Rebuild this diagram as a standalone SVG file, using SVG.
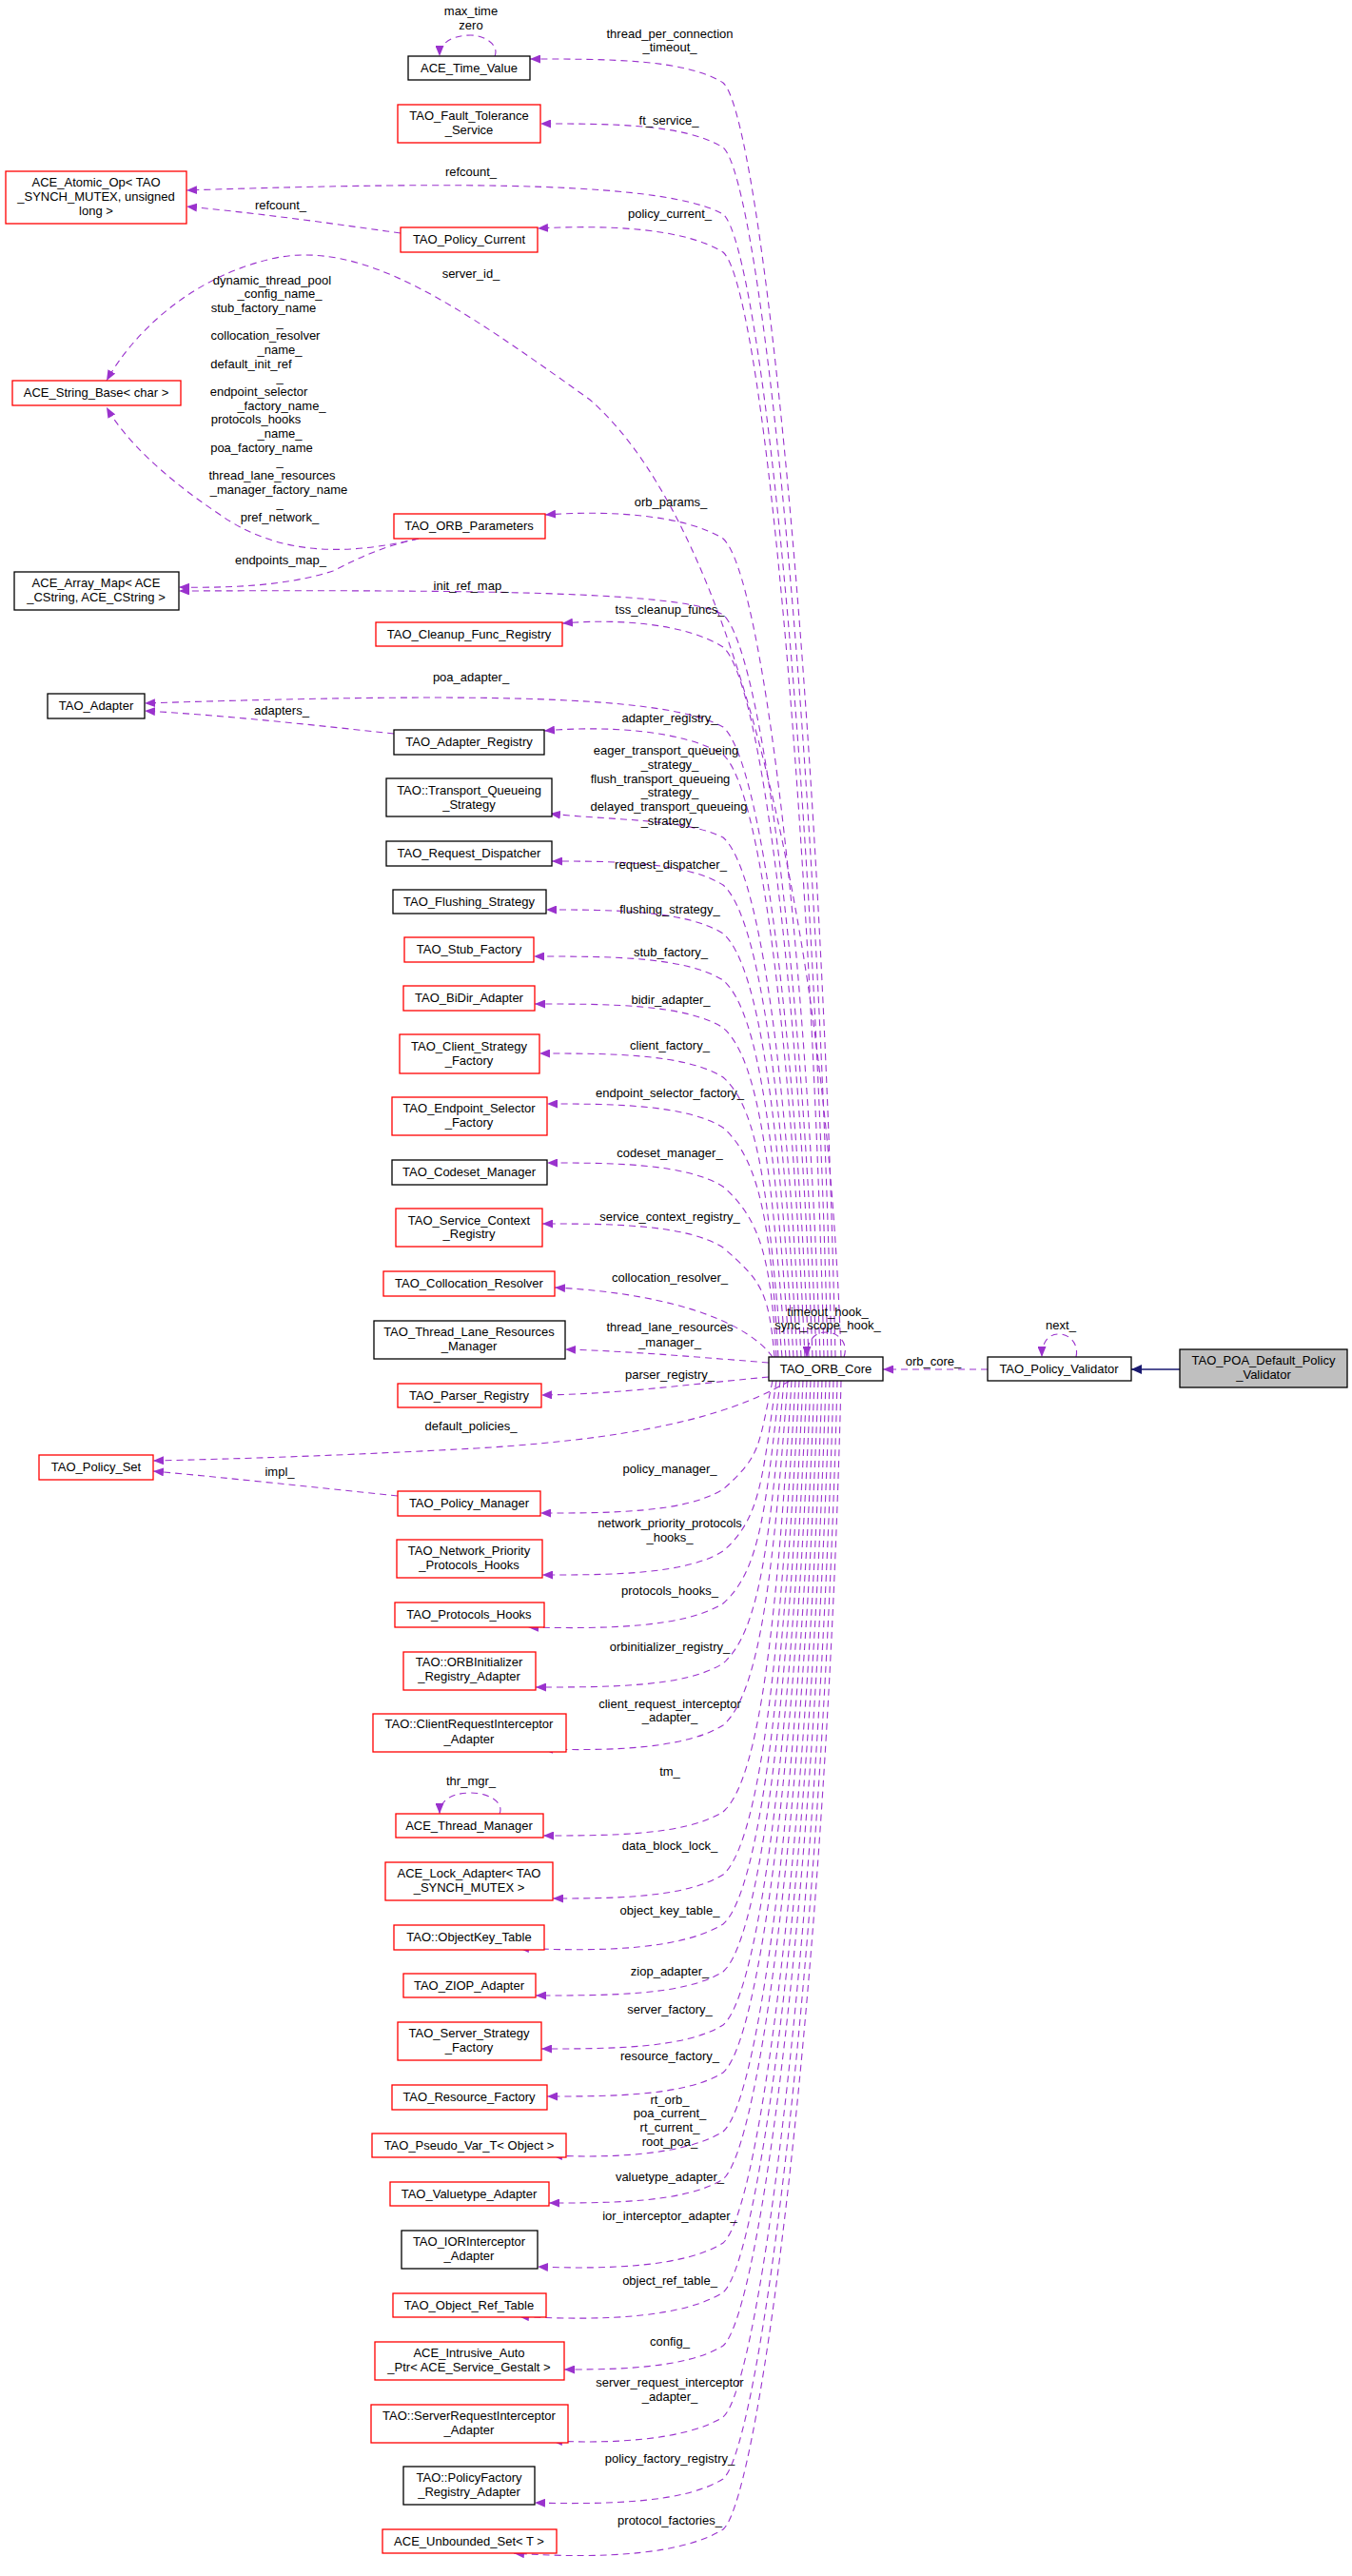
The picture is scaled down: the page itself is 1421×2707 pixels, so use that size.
<svg xmlns="http://www.w3.org/2000/svg" width="1421" height="2707" viewBox="0 0 1421 2707">
<style>
text{font-family:"Liberation Sans",Arial,sans-serif;font-size:13px;text-anchor:middle;fill:#000}
.r{fill:#fff;stroke:#ff0000;stroke-width:1.3}
.b{fill:#fff;stroke:#000;stroke-width:1.3}
.e{fill:none;stroke:#9a32cd;stroke-width:1.1;stroke-dasharray:7,5;marker-end:url(#a)}
</style>
<defs>
<marker id="a" markerUnits="userSpaceOnUse" markerWidth="12" markerHeight="9" refX="11" refY="4.5" orient="auto"><path d="M0,0 L11,4.5 L0,9 z" fill="#9a32cd"/></marker>
<marker id="n" markerUnits="userSpaceOnUse" markerWidth="12" markerHeight="10" refX="11" refY="5" orient="auto"><path d="M0,0 L11,5 L0,10 z" fill="#191970"/></marker>
</defs>
<rect width="1421" height="2707" fill="#fff"/>
<g id="edges">
<path class="e" d="M878,1426 C863,744 800,122 760,87 C720,62 640,62 557,62"/>
<path class="e" d="M874,1426 C859,778 800,190 760,155 C720,130 640,130 568,130"/>
<path class="e" d="M870,1426 C855,813 800,260 760,225 C700,192 500,190 196,200"/>
<path class="e" d="M866,1426 C851,833 800,300 760,265 C720,240 640,236 565,240"/>
<path class="e" d="M884,1426 C870,1000 780,560 620,420 C480,320 380,250 285,272 C200,292 140,350 112,400"/>
<path class="e" d="M862,1426 C847,983 800,601 760,566 C720,541 640,536 573,541"/>
<path class="e" d="M858,1426 C843,1023 800,681 760,646 C720,621 500,620 188,621"/>
<path class="e" d="M854,1426 C839,1040 800,715 760,680 C720,655 650,650 591,655"/>
<path class="e" d="M850,1426 C835,1082 800,799 760,764 C700,730 500,728 152,739"/>
<path class="e" d="M846,1426 C831,1097 800,828 760,793 C720,768 640,762 572,768"/>
<path class="e" d="M842,1426 C827,1140 800,915 760,880 C720,860 640,862 578,855"/>
<path class="e" d="M838,1426 C823,1165 800,965 760,930 C720,905 640,905 580,905"/>
<path class="e" d="M834,1426 C819,1191 800,1016 760,981 C720,956 640,956 574,956"/>
<path class="e" d="M830,1426 C815,1215 800,1065 760,1030 C720,1005 640,1005 561,1005"/>
<path class="e" d="M826,1426 C811,1240 800,1115 760,1080 C720,1055 640,1055 562,1055"/>
<path class="e" d="M822,1426 C807,1266 800,1167 760,1132 C720,1107 640,1107 567,1107"/>
<path class="e" d="M818,1426 C810,1293 800,1220 760,1185 C720,1160 640,1160 575,1160"/>
<path class="e" d="M816,1426 C810,1324 800,1282 760,1247 C720,1222 640,1222 575,1222"/>
<path class="e" d="M814,1426 C808,1356 800,1346 760,1311 C720,1286 640,1286 570,1286"/>
<path class="e" d="M812,1426 C790,1395 720,1360 583,1353"/>
<path class="e" d="M808,1432 C720,1425 660,1420 594,1418"/>
<path class="e" d="M808,1447 C720,1455 650,1465 569,1466"/>
<path class="e" d="M830,1451 C780,1480 700,1510 500,1522 C350,1530 250,1533 161,1535"/>
<path class="e" d="M812,1451 C797,1520 800,1530 760,1565 C720,1590 640,1590 568,1590"/>
<path class="e" d="M816,1451 C801,1553 800,1595 760,1630 C720,1655 640,1655 570,1655"/>
<path class="e" d="M820,1451 C805,1580 800,1650 760,1685 C720,1710 640,1712 555,1710"/>
<path class="e" d="M824,1451 C809,1612 800,1713 760,1748 C720,1773 640,1773 563,1773"/>
<path class="e" d="M828,1451 C813,1644 800,1778 760,1813 C720,1838 640,1840 570,1838"/>
<path class="e" d="M832,1451 C817,1690 800,1869 760,1904 C720,1929 640,1929 571,1929"/>
<path class="e" d="M836,1451 C821,1723 800,1935 760,1970 C720,1995 640,1995 581,1995"/>
<path class="e" d="M840,1451 C825,1749 800,1987 760,2022 C720,2047 640,2052 545,2047"/>
<path class="e" d="M844,1451 C829,1774 800,2037 760,2072 C720,2097 640,2097 563,2097"/>
<path class="e" d="M848,1451 C833,1802 800,2093 760,2128 C720,2153 640,2153 569,2153"/>
<path class="e" d="M852,1451 C837,1827 800,2143 760,2178 C720,2203 640,2203 575,2203"/>
<path class="e" d="M856,1451 C841,1858 800,2205 760,2240 C720,2265 640,2268 580,2265"/>
<path class="e" d="M860,1451 C845,1883 800,2255 760,2290 C720,2315 640,2315 577,2315"/>
<path class="e" d="M864,1451 C849,1916 800,2322 760,2357 C720,2382 640,2385 565,2382"/>
<path class="e" d="M868,1451 C853,1942 800,2374 760,2409 C720,2434 640,2440 545,2434"/>
<path class="e" d="M872,1451 C857,1970 800,2430 760,2465 C720,2490 640,2490 593,2490"/>
<path class="e" d="M876,1451 C861,2008 800,2505 760,2540 C720,2565 640,2568 580,2565"/>
<path class="e" d="M880,1451 C865,2040 800,2570 760,2605 C720,2630 640,2632 562,2630"/>
<path class="e" d="M884,1451 C869,2067 800,2623 760,2658 C720,2683 640,2690 540,2683"/>
<path class="e" d="M421,245 C350,235 280,225 196,217"/>
<path class="e" d="M440,566 C380,580 300,590 230,540 C170,500 130,460 112,428"/>
<path class="e" d="M440,566 C400,575 380,585 350,600 C300,616 240,618 188,617"/>
<path class="e" d="M414,771 C330,762 240,752 152,747"/>
<path class="e" d="M418,1572 C330,1563 240,1553 161,1546"/>
<path class="e" d="M520,59 C525,48 510,37 495,37 C475,37 462,45 462,59"/>
<path class="e" d="M525,1906 C530,1895 515,1884 495,1884 C475,1884 462,1892 462,1906"/>
<path class="e" d="M887,1426 C892,1412 882,1400 868,1400 C855,1400 848,1410 848,1426"/>
<path class="e" d="M1131,1426 C1134,1413 1125,1402 1113,1402 C1102,1402 1095,1410 1095,1426"/>
<path class="e" d="M1038,1439 L928,1439"/>
<path d="M1240,1439 L1189,1439" stroke="#191970" stroke-width="1.3" fill="none" marker-end="url(#n)"/>
</g>
<g id="edge-labels">
<text x="495" y="16">max_time</text><text x="495" y="31">zero</text>
<text x="704" y="40">thread_per_connection</text><text x="704" y="54">_timeout_</text>
<text x="703" y="131">ft_service_</text>
<text x="495" y="185">refcount_</text>
<text x="295" y="220">refcount_</text>
<text x="704" y="229">policy_current_</text>
<text x="495" y="292">server_id_</text>
<text x="286" y="299">dynamic_thread_pool</text>
<text x="294" y="313">_config_name_</text>
<text x="277" y="328">stub_factory_name</text>
<text x="294" y="343">_</text>
<text x="279" y="357">collocation_resolver</text>
<text x="294" y="372">_name_</text>
<text x="264" y="387">default_init_ref</text>
<text x="294" y="401">_</text>
<text x="272" y="416">endpoint_selector</text>
<text x="296" y="431">_factory_name_</text>
<text x="269" y="445">protocols_hooks</text>
<text x="294" y="460">_name_</text>
<text x="275" y="475">poa_factory_name</text>
<text x="294" y="489">_</text>
<text x="286" y="504">thread_lane_resources</text>
<text x="293" y="519">_manager_factory_name</text>
<text x="294" y="533">_</text>
<text x="294" y="548">pref_network_</text>
<text x="705" y="532">orb_params_</text>
<text x="295" y="593">endpoints_map_</text>
<text x="495" y="620">init_ref_map_</text>
<text x="704" y="645">tss_cleanup_funcs_</text>
<text x="495" y="716">poa_adapter_</text>
<text x="296" y="751">adapters_</text>
<text x="704" y="759">adapter_registry_</text>
<text x="700" y="793">eager_transport_queueing</text>
<text x="704" y="808">_strategy_</text>
<text x="694" y="823">flush_transport_queueing</text>
<text x="704" y="837">_strategy_</text>
<text x="703" y="852">delayed_transport_queueing</text>
<text x="704" y="867">_strategy_</text>
<text x="705" y="913">request_dispatcher_</text>
<text x="704" y="960">flushing_strategy_</text>
<text x="705" y="1005">stub_factory_</text>
<text x="705" y="1055">bidir_adapter_</text>
<text x="704" y="1103">client_factory_</text>
<text x="704" y="1153">endpoint_selector_factory_</text>
<text x="704" y="1216">codeset_manager_</text>
<text x="704" y="1283">service_context_registry_</text>
<text x="704" y="1347">collocation_resolver_</text>
<text x="704" y="1399">thread_lane_resources</text>
<text x="704" y="1415">_manager_</text>
<text x="870" y="1383">timeout_hook_</text>
<text x="870" y="1397">sync_scope_hook_</text>
<text x="981" y="1435">orb_core_</text>
<text x="1115" y="1397">next_</text>
<text x="704" y="1449">parser_registry_</text>
<text x="495" y="1503">default_policies_</text>
<text x="294" y="1551">impl_</text>
<text x="704" y="1548">policy_manager_</text>
<text x="704" y="1605">network_priority_protocols</text>
<text x="704" y="1620">_hooks_</text>
<text x="704" y="1676">protocols_hooks_</text>
<text x="704" y="1735">orbinitializer_registry_</text>
<text x="704" y="1795">client_request_interceptor</text>
<text x="704" y="1809">_adapter_</text>
<text x="704" y="1866">tm_</text>
<text x="495" y="1876">thr_mgr_</text>
<text x="704" y="1944">data_block_lock_</text>
<text x="704" y="2012">object_key_table_</text>
<text x="704" y="2076">ziop_adapter_</text>
<text x="704" y="2116">server_factory_</text>
<text x="704" y="2165">resource_factory_</text>
<text x="704" y="2211">rt_orb_</text>
<text x="704" y="2225">poa_current_</text>
<text x="704" y="2240">rt_current_</text>
<text x="704" y="2255">root_poa_</text>
<text x="704" y="2292">valuetype_adapter_</text>
<text x="704" y="2333">ior_interceptor_adapter_</text>
<text x="704" y="2401">object_ref_table_</text>
<text x="704" y="2465">config_</text>
<text x="704" y="2508">server_request_interceptor</text>
<text x="704" y="2523">_adapter_</text>
<text x="704" y="2588">policy_factory_registry_</text>
<text x="704" y="2653">protocol_factories_</text>
</g>
<g id="n1"><rect class="b" x="429" y="59" width="128" height="25"/><text x="493" y="76">ACE_Time_Value</text></g>
<g id="n2"><rect class="r" x="418" y="110" width="150" height="40"/><text x="493" y="126">TAO_Fault_Tolerance</text><text x="493" y="141">_Service</text></g>
<g id="n3"><rect class="r" x="6" y="180" width="190" height="55"/><text x="101" y="196">ACE_Atomic_Op&lt; TAO</text><text x="101" y="211">_SYNCH_MUTEX, unsigned</text><text x="101" y="226">long &gt;</text></g>
<g id="n4"><rect class="r" x="421" y="239" width="144" height="26"/><text x="493" y="256">TAO_Policy_Current</text></g>
<g id="n5"><rect class="r" x="13" y="400" width="177" height="26"/><text x="101" y="417">ACE_String_Base&lt; char &gt;</text></g>
<g id="n6"><rect class="r" x="414" y="540" width="159" height="26"/><text x="493" y="557">TAO_ORB_Parameters</text></g>
<g id="n7"><rect class="b" x="15" y="601" width="173" height="40"/><text x="101" y="617">ACE_Array_Map&lt; ACE</text><text x="101" y="632">_CString, ACE_CString &gt;</text></g>
<g id="n8"><rect class="r" x="395" y="654" width="196" height="25"/><text x="493" y="671">TAO_Cleanup_Func_Registry</text></g>
<g id="n9"><rect class="b" x="50" y="729" width="102" height="26"/><text x="101" y="746">TAO_Adapter</text></g>
<g id="n10"><rect class="b" x="414" y="767" width="158" height="26"/><text x="493" y="784">TAO_Adapter_Registry</text></g>
<g id="n11"><rect class="b" x="406" y="818" width="174" height="40"/><text x="493" y="835">TAO::Transport_Queueing</text><text x="493" y="850">_Strategy</text></g>
<g id="n12"><rect class="b" x="406" y="884" width="174" height="26"/><text x="493" y="901">TAO_Request_Dispatcher</text></g>
<g id="n13"><rect class="b" x="413" y="935" width="161" height="25"/><text x="493" y="952">TAO_Flushing_Strategy</text></g>
<g id="n14"><rect class="r" x="425" y="985" width="136" height="26"/><text x="493" y="1002">TAO_Stub_Factory</text></g>
<g id="n15"><rect class="r" x="424" y="1036" width="138" height="26"/><text x="493" y="1053">TAO_BiDir_Adapter</text></g>
<g id="n16"><rect class="r" x="420" y="1087" width="147" height="41"/><text x="493" y="1104">TAO_Client_Strategy</text><text x="493" y="1119">_Factory</text></g>
<g id="n17"><rect class="r" x="412" y="1153" width="163" height="40"/><text x="493" y="1169">TAO_Endpoint_Selector</text><text x="493" y="1184">_Factory</text></g>
<g id="n18"><rect class="b" x="412" y="1219" width="163" height="26"/><text x="493" y="1236">TAO_Codeset_Manager</text></g>
<g id="n19"><rect class="r" x="416" y="1270" width="154" height="40"/><text x="493" y="1287">TAO_Service_Context</text><text x="493" y="1301">_Registry</text></g>
<g id="n20"><rect class="r" x="403" y="1336" width="180" height="26"/><text x="493" y="1353">TAO_Collocation_Resolver</text></g>
<g id="n21"><rect class="b" x="393" y="1388" width="201" height="40"/><text x="493" y="1404">TAO_Thread_Lane_Resources</text><text x="493" y="1419">_Manager</text></g>
<g id="n22"><rect class="b" x="808" y="1426" width="120" height="25"/><text x="868" y="1443">TAO_ORB_Core</text></g>
<g id="n23"><rect class="b" x="1038" y="1426" width="151" height="25"/><text x="1113" y="1443">TAO_Policy_Validator</text></g>
<g id="n24"><rect x="1240" y="1418" width="176" height="40" fill="#bfbfbf" stroke="#000" stroke-width="1.3"/><text x="1328" y="1434">TAO_POA_Default_Policy</text><text x="1328" y="1449">_Validator</text></g>
<g id="n25"><rect class="r" x="418" y="1454" width="151" height="25"/><text x="493" y="1471">TAO_Parser_Registry</text></g>
<g id="n26"><rect class="r" x="41" y="1529" width="120" height="26"/><text x="101" y="1546">TAO_Policy_Set</text></g>
<g id="n27"><rect class="r" x="418" y="1567" width="150" height="26"/><text x="493" y="1584">TAO_Policy_Manager</text></g>
<g id="n28"><rect class="r" x="417" y="1618" width="153" height="40"/><text x="493" y="1634">TAO_Network_Priority</text><text x="493" y="1649">_Protocols_Hooks</text></g>
<g id="n29"><rect class="r" x="415" y="1684" width="157" height="26"/><text x="493" y="1701">TAO_Protocols_Hooks</text></g>
<g id="n30"><rect class="r" x="424" y="1736" width="139" height="40"/><text x="493" y="1751">TAO::ORBInitializer</text><text x="493" y="1766">_Registry_Adapter</text></g>
<g id="n31"><rect class="r" x="392" y="1801" width="203" height="40"/><text x="493" y="1816">TAO::ClientRequestInterceptor</text><text x="493" y="1832">_Adapter</text></g>
<g id="n32"><rect class="r" x="416" y="1906" width="155" height="25"/><text x="493" y="1923">ACE_Thread_Manager</text></g>
<g id="n33"><rect class="r" x="405" y="1957" width="176" height="40"/><text x="493" y="1973">ACE_Lock_Adapter&lt; TAO</text><text x="493" y="1988">_SYNCH_MUTEX &gt;</text></g>
<g id="n34"><rect class="r" x="414" y="2023" width="158" height="26"/><text x="493" y="2040">TAO::ObjectKey_Table</text></g>
<g id="n35"><rect class="r" x="424" y="2074" width="139" height="25"/><text x="493" y="2091">TAO_ZIOP_Adapter</text></g>
<g id="n36"><rect class="r" x="418" y="2125" width="151" height="40"/><text x="493" y="2141">TAO_Server_Strategy</text><text x="493" y="2156">_Factory</text></g>
<g id="n37"><rect class="r" x="412" y="2191" width="163" height="26"/><text x="493" y="2208">TAO_Resource_Factory</text></g>
<g id="n38"><rect class="r" x="391" y="2242" width="204" height="25"/><text x="493" y="2259">TAO_Pseudo_Var_T&lt; Object &gt;</text></g>
<g id="n39"><rect class="r" x="410" y="2293" width="167" height="25"/><text x="493" y="2310">TAO_Valuetype_Adapter</text></g>
<g id="n40"><rect class="b" x="422" y="2344" width="143" height="40"/><text x="493" y="2360">TAO_IORInterceptor</text><text x="493" y="2375">_Adapter</text></g>
<g id="n41"><rect class="r" x="413" y="2410" width="161" height="25"/><text x="493" y="2427">TAO_Object_Ref_Table</text></g>
<g id="n42"><rect class="r" x="394" y="2461" width="199" height="40"/><text x="493" y="2477">ACE_Intrusive_Auto</text><text x="493" y="2492">_Ptr&lt; ACE_Service_Gestalt &gt;</text></g>
<g id="n43"><rect class="r" x="390" y="2527" width="207" height="40"/><text x="493" y="2543">TAO::ServerRequestInterceptor</text><text x="493" y="2558">_Adapter</text></g>
<g id="n44"><rect class="b" x="424" y="2592" width="138" height="40"/><text x="493" y="2608">TAO::PolicyFactory</text><text x="493" y="2623">_Registry_Adapter</text></g>
<g id="n45"><rect class="r" x="402" y="2658" width="183" height="25"/><text x="493" y="2675">ACE_Unbounded_Set&lt; T &gt;</text></g>
</svg>
